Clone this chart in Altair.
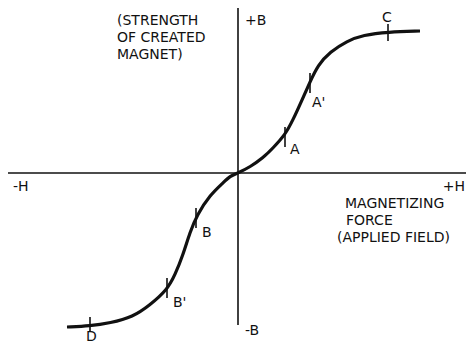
import altair as alt
import pandas as pd

# Magnetization curve (arbitrary units: H = applied field, B = induced strength)
H_curve = [-171, -148, -128, -105, -88, -71, -63, -55, -48, -41, -28, -15, -8, 0,
           12, 25, 35, 47, 55, 64, 72, 80, 92, 109, 125, 150, 182]
B_curve = [-154, -153, -150, -144, -132, -117, -102, -82, -59, -42, -22, -10, -3, 0,
           6, 15, 25, 38, 53, 73, 91, 108, 121, 132, 138, 141, 142]

# Marked points on the curve (short vertical ticks)
tick_names = ["A", "A'", "C", "B", "B'", "D"]
tick_H = [47, 72, 150, -42, -71, -148]
tick_B1 = [26, 80, 132, -35, -105, -144]
tick_B2 = [46, 100, 149, -55, -125, -158]

# Axis lines
axis_H1 = [-230, 0]
axis_H2 = [236, 0]
axis_B1 = [0, 168]
axis_B2 = [0, -152]

# Text labels
label_text = ["(STRENGTH", "OF CREATED", "MAGNET)", "+B", "-B", "-H",
              "MAGNETIZING", "FORCE", "(APPLIED FIELD)",
              "A", "A'", "C", "B", "B'", "D"]
label_H = [-121, -121, -121, 7, 7, -225, 107, 108, 99, 52, 74, 144, -36, -65, -152]
label_B = [148, 131, 114, 148, -162, -18, -35, -52, -69, 19, 66, 151, -64, -134, -168]

right_text = ["+H"]
right_H = [227]
right_B = [-18]

curve = pd.DataFrame({"H": H_curve, "B": B_curve})
ticks = pd.DataFrame({"name": tick_names, "H": tick_H, "B1": tick_B1, "B2": tick_B2})
axes = pd.DataFrame({"H1": axis_H1, "H2": axis_H2, "B1": axis_B1, "B2": axis_B2})
labels = pd.DataFrame({"text": label_text, "H": label_H, "B": label_B})
rlabels = pd.DataFrame({"text": right_text, "H": right_H, "B": right_B})

xs = alt.Scale(domain=[-230, 228], nice=False, zero=False)
ys = alt.Scale(domain=[-173, 165], nice=False, zero=False)
ink = "#111111"
font = "DejaVu Sans"
fsize = 14

axis_layer = alt.Chart(axes).mark_rule(color=ink, strokeWidth=1.6).encode(
    x=alt.X("H1:Q", scale=xs, axis=None),
    x2="H2:Q",
    y=alt.Y("B1:Q", scale=ys, axis=None),
    y2="B2:Q",
)

curve_layer = alt.Chart(curve).mark_line(
    color=ink, strokeWidth=3.2, interpolate="basis"
).encode(
    x=alt.X("H:Q", scale=xs, axis=None),
    y=alt.Y("B:Q", scale=ys, axis=None),
    order="H:Q",
)

tick_layer = alt.Chart(ticks).mark_rule(color=ink, strokeWidth=1.6).encode(
    x=alt.X("H:Q", scale=xs, axis=None),
    y=alt.Y("B1:Q", scale=ys, axis=None),
    y2="B2:Q",
)

text_layer = alt.Chart(labels).mark_text(
    align="left", baseline="alphabetic", font=font, fontSize=fsize, color=ink
).encode(
    x=alt.X("H:Q", scale=xs, axis=None),
    y=alt.Y("B:Q", scale=ys, axis=None),
    text="text:N",
)

rtext_layer = alt.Chart(rlabels).mark_text(
    align="right", baseline="alphabetic", font=font, fontSize=fsize, color=ink
).encode(
    x=alt.X("H:Q", scale=xs, axis=None),
    y=alt.Y("B:Q", scale=ys, axis=None),
    text="text:N",
)

chart = alt.layer(axis_layer, curve_layer, tick_layer, text_layer, rtext_layer).properties(
    width=458, height=338, padding=0, autosize="none", background="white"
).configure_view(strokeWidth=0)

chart.save("out.html", embed_options={"renderer": "svg", "actions": False})
